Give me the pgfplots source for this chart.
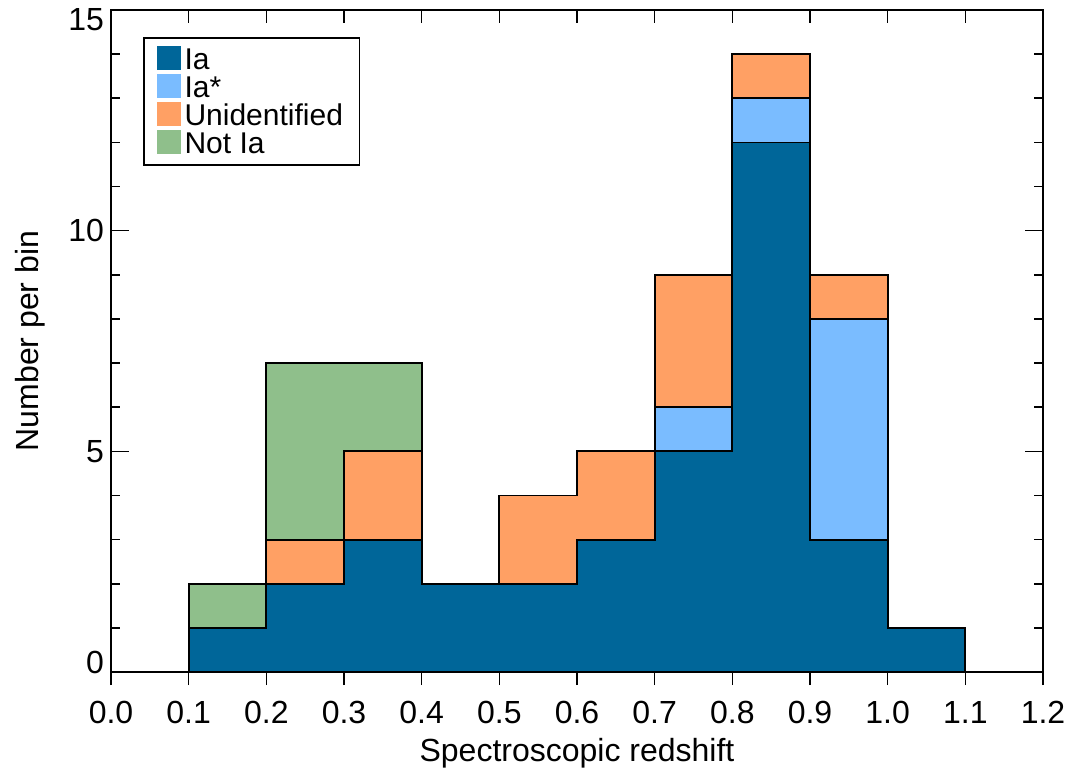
\documentclass[border=0pt]{standalone}
\usepackage{fontspec}
\setmainfont{Liberation Sans}
\usepackage{pgfplots}
\pgfplotsset{compat=1.18}
\definecolor{cIa}{RGB}{0,102,153}
\definecolor{cIas}{RGB}{122,188,255}
\definecolor{cUn}{RGB}{255,160,100}
\definecolor{cNot}{RGB}{143,191,139}
\begin{document}
\begin{tikzpicture}
\pgfplotsset{common/.style={scale only axis, width=466pt, height=331pt,
  xmin=0, xmax=1.2, ymin=0, ymax=15, at={(0,0)}, anchor=south west,
  axis line style={line width=0.8pt, black},
  every tick/.style={black, line width=0.8pt},
  /pgf/number format/assume math mode=true,
  every tick label/.append style={font=\fontsize{16}{19}\selectfont}}}
% y ticks (inside, both sides)
\begin{axis}[common, tick align=inside, xtick=\empty,
  ytick={0,5,10,15}, minor y tick num=4, ytick pos=both, yticklabel pos=left,
  yticklabels={\raisebox{5pt}[\height][\depth]{0},5,10,\raisebox{-5pt}[\height][\depth]{15}},
  major tick length=9pt, minor tick length=4.5pt]
\end{axis}
% top x ticks (inside)
\begin{axis}[common, tick align=inside, ytick=\empty, xtick pos=right,
  xtick={0,0.1,0.2,0.3,0.4,0.5,0.6,0.7,0.8,0.9,1.0,1.1,1.2}, xticklabels={},
  major tick length=6.5pt]
\end{axis}
% main axis with data and bottom x ticks (outside)
\begin{axis}[common, name=A, clip=false, tick align=outside, ytick=\empty, xtick pos=left,
  xtick={0,0.1,0.2,0.3,0.4,0.5,0.6,0.7,0.8,0.9,1.0,1.1,1.2},
  xticklabels={0.0,0.1,0.2,0.3,0.4,0.5,0.6,0.7,0.8,0.9,1.0,1.1,1.2},
  xticklabel style={yshift=-4.5pt},
  major tick length=6.5pt,
  xlabel={Spectroscopic redshift},
  xlabel style={font=\fontsize{16}{19}\selectfont, at={(axis description cs:0.5,-0.135)}, anchor=base},
  ylabel={Number per bin},
  ylabel style={font=\fontsize{16}{19}\selectfont, at={(axis description cs:-0.078,0.5)}, anchor=base},
  reverse legend,
  legend style={at={(0.0345,0.959)}, anchor=north west, draw=black, line width=0.8pt, fill=white,
    font=\fontsize{15}{15}\selectfont, inner xsep=6.5pt, inner ysep=4pt, row sep=0.5pt,
    nodes={inner xsep=1.8pt, inner ysep=0pt}, cells={anchor=west}},
  legend image code/.code={\fill[#1,draw=none] (0pt,-4.5pt) rectangle (12pt,7.5pt);}
]
\addplot[const plot, fill=cNot, draw=black, line width=0.9pt] coordinates
  {(0.1,2)(0.2,7)(0.3,7)(0.4,2)(0.5,4)(0.6,5)(0.7,9)(0.8,14)(0.9,9)(1.0,1)(1.1,1)} \closedcycle;
\addlegendentry{Not Ia}
\addplot[const plot, fill=cUn, draw=black, line width=0.9pt] coordinates
  {(0.1,1)(0.2,3)(0.3,5)(0.4,2)(0.5,4)(0.6,5)(0.7,9)(0.8,14)(0.9,9)(1.0,1)(1.1,1)} \closedcycle;
\addlegendentry{Unidentified}
\addplot[const plot, fill=cIas, draw=black, line width=0.9pt] coordinates
  {(0.1,1)(0.2,2)(0.3,3)(0.4,2)(0.5,2)(0.6,3)(0.7,6)(0.8,13)(0.9,8)(1.0,1)(1.1,1)} \closedcycle;
\addlegendentry{Ia*}
\addplot[const plot, fill=cIa, draw=black, line width=0.9pt] coordinates
  {(0.1,1)(0.2,2)(0.3,3)(0.4,2)(0.5,2)(0.6,3)(0.7,5)(0.8,12)(0.9,3)(1.0,1)(1.1,1)} \closedcycle;
\addlegendentry{Ia}
\addplot[forget plot, black, line width=1.1pt] coordinates {(0.05,0)(0.1,0)};
\addplot[forget plot, black, line width=1.1pt] coordinates {(1.1,0)(1.15,0)};
\end{axis}
\pgfresetboundingbox
\path[use as bounding box] (-55.5pt,-50.5pt) rectangle (482pt,336pt);
\end{tikzpicture}
\end{document}
